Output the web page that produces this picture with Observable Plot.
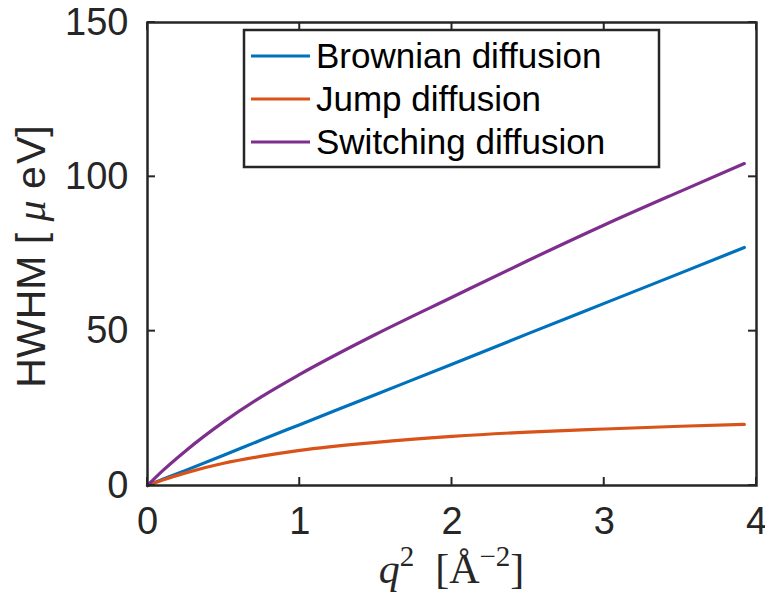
<!DOCTYPE html>
<html>
<head>
<meta charset="utf-8">
<script src="https://cdn.jsdelivr.net/npm/d3@7"></script>
<script src="https://cdn.jsdelivr.net/npm/@observablehq/plot@0.6"></script>
<style>
  html, body { margin: 0; padding: 0; background: #fff; }
  svg { display: block; }
</style>
</head>
<body>
<div id="chart"></div>
<script>
// q^2 values (Å^-2) and HWHM (μeV)
const q2 = [0, 0.1, 0.25, 0.5, 0.75, 1, 1.5, 2, 2.5, 3, 3.5, 3.92];
const brownian = [0, 2.0, 4.9, 9.8, 14.8, 19.7, 29.5, 39.3, 49.2, 59.0, 68.8, 77.1];
const jump = [0, 1.8, 4.1, 7.2, 9.5, 11.4, 14.0, 15.9, 17.3, 18.3, 19.2, 19.8];
const switching = [0, 4.8, 11.2, 20.6, 28.8, 36.0, 49.0, 61.0, 72.9, 84.4, 95.3, 104.3];

const seriesNames = ["Brownian diffusion", "Jump diffusion", "Switching diffusion"];
const seriesColors = ["#0072BD", "#D95319", "#7E2F8E"];
const seriesValues = [brownian, jump, switching];

const xTicks = [0, 1, 2, 3, 4];
const yTicks = [0, 50, 100, 150];

const rows = [];
seriesNames.forEach((name, i) => {
  q2.forEach((x, j) => rows.push({series: name, x, y: seriesValues[i][j]}));
});

const W = 765, H = 597;
const mL = 147, mR = 9, mT = 22, mB = 112;
const axisColor = "#262626";
const tickLen = 8;

const svg = Plot.plot({
  width: W,
  height: H,
  marginLeft: mL,
  marginRight: mR,
  marginTop: mT,
  marginBottom: mB,
  style: {fontFamily: "'Liberation Sans', Arial, Helvetica, sans-serif", fontSize: "38px", color: axisColor, background: "#fff"},
  x: {domain: [0, 4]},
  y: {domain: [0, 150]},
  color: {domain: seriesNames, range: seriesColors},
  marks: [
    Plot.axisX(xTicks, {anchor: "bottom", tickSize: 0, tickPadding: 22, fontSize: 38, fill: axisColor, label: null, tickFormat: d3.format("d")}),
    Plot.axisY(yTicks, {anchor: "left", tickSize: 0, tickPadding: 19, fontSize: 38, fill: axisColor, label: null, tickFormat: d3.format("d")}),
    Plot.line(rows, {x: "x", y: "y", z: "series", stroke: "series", strokeWidth: 3.2, curve: "monotone-x"}),
    Plot.frame({stroke: axisColor, strokeWidth: 2.5})
  ]
});

const s = d3.select(svg);
const sx = svg.scale("x"), sy = svg.scale("y");
const x0 = sx.apply(0), x1 = sx.apply(4), y0 = sy.apply(0), y1 = sy.apply(150);

// Inward ticks on all four sides (MATLAB box style)
const tg = s.append("g").attr("stroke", axisColor).attr("stroke-width", 2);
xTicks.forEach(v => {
  const px = sx.apply(v);
  tg.append("line").attr("x1", px).attr("x2", px).attr("y1", y0).attr("y2", y0 - tickLen);
  tg.append("line").attr("x1", px).attr("x2", px).attr("y1", y1).attr("y2", y1 + tickLen);
});
yTicks.forEach(v => {
  const py = sy.apply(v);
  tg.append("line").attr("x1", x0).attr("x2", x0 + tickLen).attr("y1", py).attr("y2", py);
  tg.append("line").attr("x1", x1).attr("x2", x1 - tickLen).attr("y1", py).attr("y2", py);
});

// Y label
const yl = s.append("text")
  .attr("transform", `translate(45,${(y0 + y1) / 2 + 3}) rotate(-90)`)
  .attr("text-anchor", "middle")
  .attr("font-family", "'Liberation Sans', Arial, sans-serif")
  .attr("font-size", 41)
  .attr("fill", axisColor);
yl.append("tspan").text("HWHM [\u00a0");
yl.append("tspan").attr("font-family", "'Liberation Serif', 'DejaVu Serif', serif").attr("font-style", "italic").attr("font-size", 42).text("\u03bc");
yl.append("tspan").text("\u00a0e").append("tspan").attr("dx", 2).text("V]");

// X label
const xl = s.append("text")
  .attr("x", (x0 + x1) / 2)
  .attr("y", 583)
  .attr("text-anchor", "middle")
  .attr("font-family", "'Liberation Serif', 'DejaVu Serif', serif")
  .attr("font-size", 42)
  .attr("fill", axisColor);
xl.append("tspan").attr("font-style", "italic").text("q");
xl.append("tspan").attr("font-size", 29).attr("dy", -17).text("2");
xl.append("tspan").attr("dy", 17).text("\u2002[\u00c5");
xl.append("tspan").attr("font-size", 29).attr("dy", -17).text("\u22122");
xl.append("tspan").attr("dy", 17).text("]");

// Legend
const lg = s.append("g").attr("text-anchor", "start");
lg.append("rect").attr("x", 244).attr("y", 30).attr("width", 415).attr("height", 137)
  .attr("fill", "#fff").attr("stroke", axisColor).attr("stroke-width", 2.5);
const rowY = [56, 99, 142];
seriesNames.forEach((name, i) => {
  lg.append("line").attr("x1", 251).attr("x2", 310).attr("y1", rowY[i]).attr("y2", rowY[i])
    .attr("stroke", seriesColors[i]).attr("stroke-width", 3);
  lg.append("text").attr("x", 316).attr("y", rowY[i]).attr("dy", "0.35em")
    .attr("text-anchor", "start")
    .attr("font-family", "'Liberation Sans', Arial, sans-serif").attr("font-size", 35)
    .attr("fill", "#000").text(name);
});

document.getElementById("chart").appendChild(svg);
</script>
</body>
</html>
